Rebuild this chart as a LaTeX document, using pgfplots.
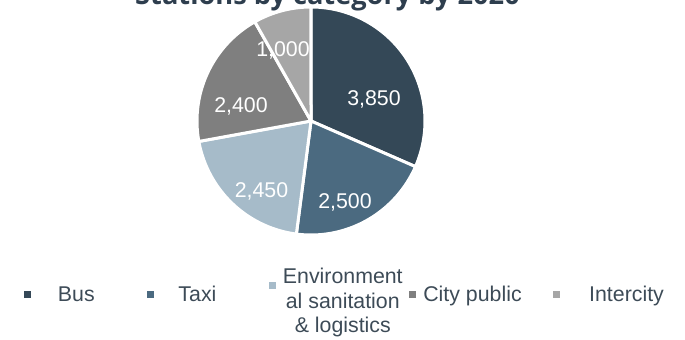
\documentclass[border=0pt]{standalone}
\usepackage{pgfplots}
\pgfplotsset{compat=1.18}
\usepackage{fontspec}
\setmainfont{Liberation Sans}
\newfontfamily\titlefont{Open Sans}
\definecolor{cBus}{HTML}{344857}
\definecolor{cTaxi}{HTML}{4B6A80}
\definecolor{cEnv}{HTML}{A6BBC9}
\definecolor{cCity}{HTML}{7F7F7F}
\definecolor{cInter}{HTML}{A6A6A6}
\definecolor{cTitle}{HTML}{2E3E4E}
\definecolor{cText}{HTML}{3D4B57}
% values
\pgfmathsetmacro\vA{3850}% Bus
\pgfmathsetmacro\vB{2500}% Taxi
\pgfmathsetmacro\vC{2450}% Environmental sanitation & logistics
\pgfmathsetmacro\vD{2400}% City public
\pgfmathsetmacro\vE{1000}% Intercity
\pgfmathsetmacro\tot{\vA+\vB+\vC+\vD+\vE}
\pgfmathsetmacro\aA{90}
\pgfmathsetmacro\aB{\aA-\vA/\tot*360}
\pgfmathsetmacro\aC{\aB-\vB/\tot*360}
\pgfmathsetmacro\aD{\aC-\vC/\tot*360}
\pgfmathsetmacro\aE{\aD-\vD/\tot*360}
\pgfmathsetmacro\aF{\aE-\vE/\tot*360}
\pgfplotsset{
  sq/.style={legend image code/.code={\fill (0pt,-3.75pt) rectangle (7.5pt,3.75pt);}},
  squp/.style={legend image code/.code={\fill (0pt,3.025pt) rectangle (7.5pt,10.525pt);}},
  slice/.style={draw=white, line width=2.25pt, line join=round, samples=90, variable=\t},
}
\begin{document}
\begin{tikzpicture}
\begin{axis}[
  x=0.75pt, y=0.75pt, xmin=0, xmax=685, ymin=0, ymax=339,
  hide axis, clip=false,
  legend columns=5,
  legend cell align=left,
  legend style={draw=none, fill=none, inner sep=0pt, outer sep=0pt,
    nodes={inner sep=0pt, outer sep=0pt},
    column sep=0pt, row sep=0pt,
    font=\fontsize{16}{18.4}\selectfont, text=cText,
    at={(axis cs:21,44)}, anchor=west},
]
\addplot[slice, fill=cBus, sq, domain=\aB:\aA] ({311+114*cos(\t)},{218+114*sin(\t)}) -- (axis cs:311,218) -- cycle;
\addlegendentry{\makebox[82.85pt][l]{\hspace*{18pt}Bus}}
\addplot[slice, fill=cTaxi, sq, domain=\aC:\aB] ({311+114*cos(\t)},{218+114*sin(\t)}) -- (axis cs:311,218) -- cycle;
\addlegendentry{\makebox[81.35pt][l]{\hspace*{15.75pt}Taxi}}
\addplot[slice, fill=cEnv, squp, domain=\aD:\aC] ({311+114*cos(\t)},{218+114*sin(\t)}) -- (axis cs:311,218) -- cycle;
\addlegendentry{\makebox[95.55pt][l]{\hspace*{3pt}\raisebox{9pt}{\begin{tabular}{@{}c@{}}Environment\\al sanitation\\\&~logistics\end{tabular}}}}
\addplot[slice, fill=cCity, sq, domain=\aE:\aD] ({311+114*cos(\t)},{218+114*sin(\t)}) -- (axis cs:311,218) -- cycle;
\addlegendentry{\makebox[98.15pt][l]{\hspace*{3pt}City public}}
\addplot[slice, fill=cInter, sq, domain=\aF:\aE] ({311+114*cos(\t)},{218+114*sin(\t)}) -- (axis cs:311,218) -- cycle;
\addlegendentry{\makebox[75pt][l]{\hspace*{19.5pt}Intercity}}
% data labels
\begin{scope}[every node/.style={text=white, font=\fontsize{16}{18}\selectfont, anchor=base, inner sep=0pt}]
\node at (axis cs:374,233) {3,850};
\node at (axis cs:345,130) {2,500};
\node at (axis cs:261.5,141) {2,450};
\node at (axis cs:241,226) {2,400};
\node at (axis cs:283,282) {1,000};
\end{scope}
\node[font=\titlefont\bfseries\fontsize{20.4}{24}\selectfont, text=cTitle, anchor=base, inner sep=0pt] at (axis cs:327.5,334.5) {Stations by category by 2020};
\end{axis}
\pgfresetboundingbox
\path (current axis.south west) rectangle (current axis.north east);
\end{tikzpicture}
\end{document}
